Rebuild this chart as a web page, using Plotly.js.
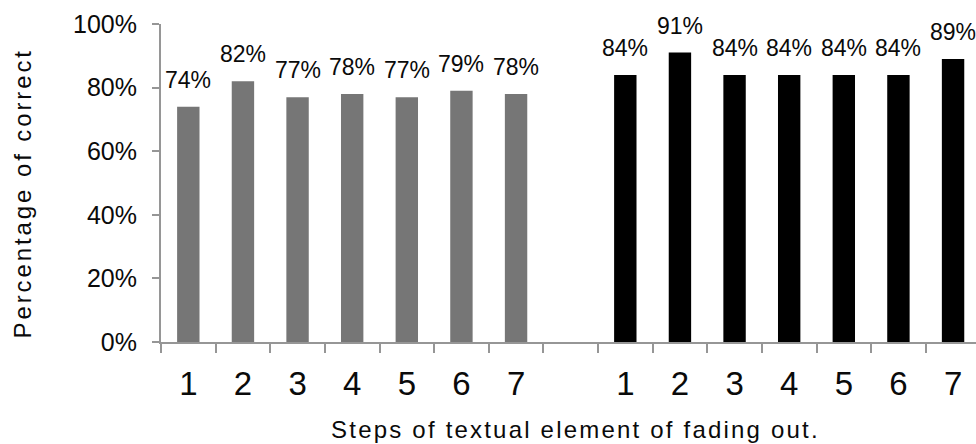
<!DOCTYPE html>
<html>
<head>
<meta charset="utf-8">
<script src="https://cdn.plot.ly/plotly-3.0.1.min.js"></script>
<style>
  html, body { margin: 0; padding: 0; background: #ffffff; }
  #chart { width: 976px; height: 444px; }
  /* wide tracking on the two axis titles */
  .annotation[data-index="0"] .annotation-text { letter-spacing: 2.9px; }
  .annotation[data-index="1"] .annotation-text { letter-spacing: 2.2px; }
</style>
</head>
<body>
<div id="chart"></div>
<script>
// step numbers shown under each group of bars
const steps = [1, 2, 3, 4, 5, 6, 7];
// share of correct answers per step, first group (grey) and second group (black)
const correctGrey = [0.74, 0.82, 0.77, 0.78, 0.77, 0.79, 0.78];
const correctBlack = [0.84, 0.91, 0.84, 0.84, 0.84, 0.84, 0.89];
// value axis ticks
const yTickValues = [0, 0.2, 0.4, 0.6, 0.8, 1.0];
const xTitleText = 'Steps of textual element of fading out.';
const yTitleText = 'Percentage of correct';

const FONT = 'Liberation Sans, Arial, Helvetica, sans-serif';
const AXIS_GREY = '#969696';
const TEXT = '#0a0a0a';

// slot positions on the x axis: group one, an empty slot, then group two
const emptySlots = 1;
const slotsGrey = steps.map((s, i) => i);
const slotsBlack = steps.map((s, i) => i + steps.length + emptySlots);
const allSlots = slotsGrey.concat(slotsBlack);
const allStepLabels = steps.concat(steps).map(String);
const boundaries = [];
for (let i = 0; i <= allSlots[allSlots.length - 1] + 1; i++) boundaries.push(i - 0.5);

const pct = v => Math.round(v * 100) + '%';

const traces = [
  {
    type: 'bar', x: slotsGrey, y: correctGrey, width: 0.41,
    marker: { color: '#767676' }, hoverinfo: 'none', showlegend: false
  },
  {
    type: 'bar', x: slotsBlack, y: correctBlack, width: 0.41,
    marker: { color: '#000000' }, hoverinfo: 'none', showlegend: false
  }
];

// value labels above every bar
const valueLabels = [];
[[slotsGrey, correctGrey], [slotsBlack, correctBlack]].forEach(([xs, ys]) => {
  xs.forEach((x, i) => {
    valueLabels.push({
      x: x, y: ys[i], xref: 'x', yref: 'y', text: pct(ys[i]),
      showarrow: false, yanchor: 'bottom', xanchor: 'center', yshift: 12,
      font: { family: FONT, size: 23, color: TEXT }
    });
  });
});

const layout = {
  width: 976, height: 444,
  margin: { l: 161, r: 0, t: 24, b: 102, pad: 0 },
  paper_bgcolor: '#ffffff', plot_bgcolor: '#ffffff',
  showlegend: false,
  font: { family: FONT, color: TEXT },
  xaxis: {
    type: 'linear',
    range: [-0.5, 14.42],
    tickmode: 'array', tickvals: allSlots, ticktext: allStepLabels,
    ticks: 'outside', ticklen: 9, tickcolor: 'rgba(0,0,0,0)',
    ticklabelstandoff: 2,
    tickfont: { family: FONT, size: 33, color: TEXT },
    minor: { tickmode: 'array', tickvals: boundaries, ticks: 'outside', ticklen: 9, tickwidth: 2, tickcolor: AXIS_GREY, showgrid: false },
    showline: true, linecolor: AXIS_GREY, linewidth: 2,
    showgrid: false, zeroline: false, fixedrange: true,
    automargin: false
  },
  yaxis: {
    range: [0, 1],
    tickmode: 'array', tickvals: yTickValues, tickformat: '.0%',
    ticks: 'outside', ticklen: 7, tickwidth: 2, tickcolor: AXIS_GREY,
    ticklabelstandoff: 10,
    tickfont: { family: FONT, size: 25, color: TEXT },
    showline: true, linecolor: AXIS_GREY, linewidth: 2,
    showgrid: false, zeroline: false, fixedrange: true,
    automargin: false
  },
  annotations: [
    {
      text: yTitleText, xref: 'paper', yref: 'paper',
      x: -0.17, y: 0.47, xanchor: 'center', yanchor: 'middle',
      textangle: -90, showarrow: false,
      font: { family: FONT, size: 24, color: TEXT }
    },
    {
      text: xTitleText, xref: 'paper', yref: 'paper',
      x: 0.508, y: -0.274, xanchor: 'center', yanchor: 'middle',
      showarrow: false,
      font: { family: FONT, size: 24, color: TEXT }
    }
  ].concat(valueLabels)
};

Plotly.newPlot('chart', traces, layout, { staticPlot: true, displayModeBar: false });
</script>
</body>
</html>
